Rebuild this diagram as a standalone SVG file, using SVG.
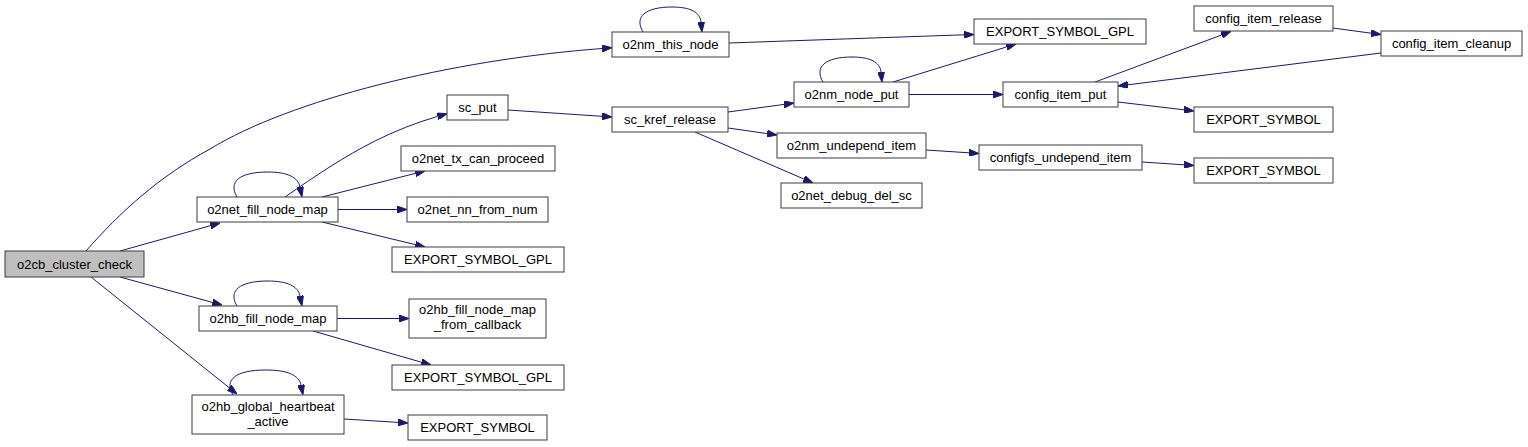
<svg xmlns="http://www.w3.org/2000/svg" width="1528" height="447" viewBox="0 0 1528 447">
<style>
.n rect{fill:#fff;stroke:#3c3c3c;stroke-width:1}
.n.g rect{fill:#bfbfbf}
.n text{font-family:"Liberation Sans",Arial,sans-serif;font-size:13px;fill:#000;text-anchor:middle}
#edges path{fill:none;stroke:#191970;stroke-width:1;marker-end:url(#ah)}
</style>
<defs>
<marker id="ah" viewBox="0 0 10 7" refX="0" refY="3.5" markerWidth="10" markerHeight="7" markerUnits="userSpaceOnUse" orient="auto">
<path d="M0,0 L10,3.5 L0,7 z" fill="#191970" stroke="#191970" stroke-width="1"/>
</marker>
</defs>
<rect width="1528" height="447" fill="#fff"/>
<g id="edges">
<path d="M86,251 C120,212 160,176 210,149 C290,100 450,60 602,48.5"/>
<path d="M120,251 L210.4,225.7"/>
<path d="M120,277 L212.4,302.4"/>
<path d="M91,277 L229.2,387.7"/>
<path d="M237,197 C228,182 239,172 268,172 C287,172 298,177 300,187"/>
<path d="M285,197 C315,176 345,156 375,141 C395,131 415,123 437.6,116.4"/>
<path d="M322,197 L415.3,173.4"/>
<path d="M338,209.5 L397,209.5"/>
<path d="M322,222 L415.3,244.6"/>
<path d="M237,306 C228,291 239,281 268,281 C287,281 298,286 300,296"/>
<path d="M337,318.5 L399,318.5"/>
<path d="M313,331 L421.4,362.2"/>
<path d="M233,395 C224,380 235,370 266,370 C287,370 299,375 301,385"/>
<path d="M344,419 L398,422.4"/>
<path d="M643,32 C634,17 645,7 672,7 C690,7 700,12 701,22"/>
<path d="M729,43 L964,34.8"/>
<path d="M508,110 L602,116.3"/>
<path d="M728,112 L784.1,104.4"/>
<path d="M728,128 L767.1,133.6"/>
<path d="M695,132 L803.8,179"/>
<path d="M823,82 C814,67 825,57 852,57 C870,57 880,62 881,72"/>
<path d="M893,82 L1006.4,47"/>
<path d="M909,94.5 L993,94.5"/>
<path d="M1095,82 L1221.6,35"/>
<path d="M1333,28 L1371.1,33.2"/>
<path d="M1381,53 L1127.9,84.8"/>
<path d="M1118,102 L1184.1,109.8"/>
<path d="M926,150 L969,152.8"/>
<path d="M1142,162 L1184,164.8"/>
</g>
<g id="n0" class="n g"><rect x="5" y="251" width="139" height="26"/><text x="74.5" y="268.5">o2cb_cluster_check</text></g>
<g id="n1" class="n"><rect x="612" y="32" width="117" height="25"/><text x="670.5" y="49">o2nm_this_node</text></g>
<g id="n2" class="n"><rect x="974" y="19" width="172" height="25"/><text x="1060" y="36">EXPORT_SYMBOL_GPL</text></g>
<g id="n3" class="n"><rect x="197" y="197" width="141" height="25"/><text x="267.5" y="214">o2net_fill_node_map</text></g>
<g id="n4" class="n"><rect x="447" y="95" width="61" height="25"/><text x="477.5" y="112">sc_put</text></g>
<g id="n5" class="n"><rect x="612" y="107" width="116" height="25"/><text x="670" y="124">sc_kref_release</text></g>
<g id="n6" class="n"><rect x="794" y="82" width="115" height="25"/><text x="851.5" y="99">o2nm_node_put</text></g>
<g id="n7" class="n"><rect x="1003" y="82" width="115" height="25"/><text x="1060.5" y="99">config_item_put</text></g>
<g id="n8" class="n"><rect x="1194" y="6" width="139" height="25"/><text x="1263.5" y="23">config_item_release</text></g>
<g id="n9" class="n"><rect x="1381" y="31" width="141" height="25"/><text x="1451.5" y="48">config_item_cleanup</text></g>
<g id="n10" class="n"><rect x="1194" y="107" width="139" height="25"/><text x="1263.5" y="124">EXPORT_SYMBOL</text></g>
<g id="n11" class="n"><rect x="777" y="133" width="149" height="25"/><text x="851.5" y="150">o2nm_undepend_item</text></g>
<g id="n12" class="n"><rect x="979" y="145" width="163" height="25"/><text x="1060.5" y="162">configfs_undepend_item</text></g>
<g id="n13" class="n"><rect x="1194" y="158" width="139" height="25"/><text x="1263.5" y="175">EXPORT_SYMBOL</text></g>
<g id="n14" class="n"><rect x="781" y="183" width="141" height="25"/><text x="851.5" y="200">o2net_debug_del_sc</text></g>
<g id="n15" class="n"><rect x="401" y="146" width="154" height="25"/><text x="478" y="163">o2net_tx_can_proceed</text></g>
<g id="n16" class="n"><rect x="407" y="197" width="141" height="25"/><text x="477.5" y="214">o2net_nn_from_num</text></g>
<g id="n17" class="n"><rect x="392" y="247" width="172" height="25"/><text x="478" y="264">EXPORT_SYMBOL_GPL</text></g>
<g id="n18" class="n"><rect x="199" y="306" width="138" height="25"/><text x="268" y="323">o2hb_fill_node_map</text></g>
<g id="n19" class="n"><rect x="409" y="299" width="137" height="39"/><text x="477.5" y="314">o2hb_fill_node_map</text><text x="477.5" y="329">_from_callback</text></g>
<g id="n20" class="n"><rect x="392" y="365" width="172" height="25"/><text x="478" y="382">EXPORT_SYMBOL_GPL</text></g>
<g id="n21" class="n"><rect x="192" y="395" width="152" height="39"/><text x="268" y="410.5">o2hb_global_heartbeat</text><text x="268" y="425.5">_active</text></g>
<g id="n22" class="n"><rect x="408" y="415" width="139" height="25"/><text x="477.5" y="432">EXPORT_SYMBOL</text></g>
</svg>
